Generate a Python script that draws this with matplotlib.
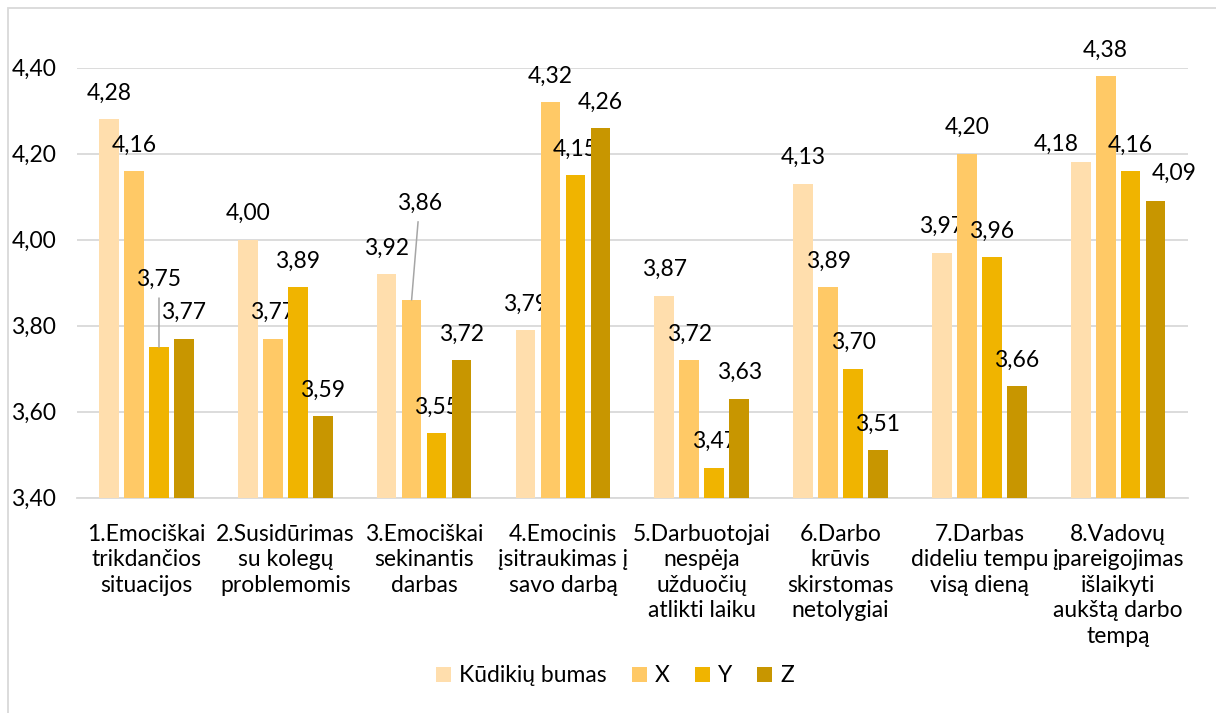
import numpy as np
import matplotlib
matplotlib.use("Agg")
import matplotlib.pyplot as plt
from matplotlib.ticker import FuncFormatter
from matplotlib.patches import Rectangle, Patch

plt.rcParams['font.family'] = ['Lato', 'DejaVu Sans']

# --- data ---
categories = [
    "1.Emociškai\ntrikdančios\nsituacijos",
    "2.Susidūrimas\nsu kolegų\nproblemomis",
    "3.Emociškai\nsekinantis\ndarbas",
    "4.Emocinis\nįsitraukimas į\nsavo darbą",
    "5.Darbuotojai\nnespėja\nužduočių\natlikti laiku",
    "6.Darbo\nkrūvis\nskirstomas\nnetolygiai",
    "7.Darbas\ndideliu tempu\nvisą dieną",
    "8.Vadovų\nįpareigojimas\nišlaikyti\naukštą darbo\ntempą",
]
series_names = ["Kūdikių bumas", "X", "Y", "Z"]
kudikiu_bumas = [4.28, 4.00, 3.92, 3.79, 3.87, 4.13, 3.97, 4.18]
x_vals = [4.16, 3.77, 3.86, 4.32, 3.72, 3.89, 4.20, 4.38]
y_vals = [3.75, 3.89, 3.55, 4.15, 3.47, 3.70, 3.96, 4.16]
z_vals = [3.77, 3.59, 3.72, 4.26, 3.63, 3.51, 3.66, 4.09]
y_ticks = [3.40, 3.60, 3.80, 4.00, 4.20, 4.40]

series = [kudikiu_bumas, x_vals, y_vals, z_vals]
colors = ["#FFDEAD", "#FFC966", "#F0B400", "#C89600"]

# label placement (pixels from bar top); a few are moved by hand
default_offset = (0, 26)
label_offsets = {
    (2, 0): (0, 68),
    (1, 2): (8, 97),
    (0, 7): (-24, 18),
    (3, 7): (19, 28),
}
leader_lines = {(2, 0), (1, 2)}

FS = 16.5


def comma(v, pos=None):
    return f"{v:.2f}".replace(".", ",")


fig = plt.figure(figsize=(12.16, 7.13), dpi=100)
ax = fig.add_axes([0.0634, 0.302, 0.9132, 0.6031])

idx = np.arange(len(categories))
bar_w = 0.142
step = 0.180

for j, vals in enumerate(series):
    xs = idx + (j - 1.5) * step
    ax.bar(xs, np.array(vals) - 3.4, bottom=3.4, width=bar_w,
           color=colors[j], zorder=3)
    for i, (xv, v) in enumerate(zip(xs, vals)):
        dx, dy = label_offsets.get((j, i), default_offset)
        props = None
        if (j, i) in leader_lines:
            props = dict(arrowstyle='-', color='#A6A6A6', lw=1.1,
                         shrinkA=4, shrinkB=0)
        ax.annotate(comma(v), xy=(xv, v), xytext=(dx, dy),
                    textcoords='offset pixels', ha='center', va='center',
                    fontsize=FS, color='black', arrowprops=props,
                    annotation_clip=False)

ax.set_xlim(-0.5, len(categories) - 0.5)
ax.set_ylim(3.4, 4.4)
ax.set_yticks(y_ticks)
ax.yaxis.set_major_formatter(FuncFormatter(comma))
ax.set_xticks(idx)
ax.set_xticklabels(categories, fontsize=FS, linespacing=1.26, va='top')

ax.grid(axis='y', color='#D9D9D9', lw=1.3, zorder=0)
for s in ['top', 'right', 'left']:
    ax.spines[s].set_visible(False)
ax.spines['bottom'].set_color('#D9D9D9')
ax.spines['bottom'].set_linewidth(1.3)
ax.tick_params(axis='y', length=0, pad=15, labelsize=FS)
ax.tick_params(axis='x', length=0, pad=19)

handles = [Patch(facecolor=c, edgecolor='none') for c in colors]
fig.legend(handles, series_names, loc='center',
           bbox_to_anchor=(615 / 1216, 1 - 676 / 713), ncol=4,
           frameon=False, fontsize=FS, handlelength=0.65, handleheight=0.65,
           handletextpad=0.35, columnspacing=1.1)

# outer chart frame
fig.patches.append(Rectangle((8 / 1216, -0.1), 1.2, 1.1 - 8 / 713,
                             transform=fig.transFigure, fill=False,
                             edgecolor='#D9D9D9', lw=1.3))

fig.savefig("out.png", dpi=100)
